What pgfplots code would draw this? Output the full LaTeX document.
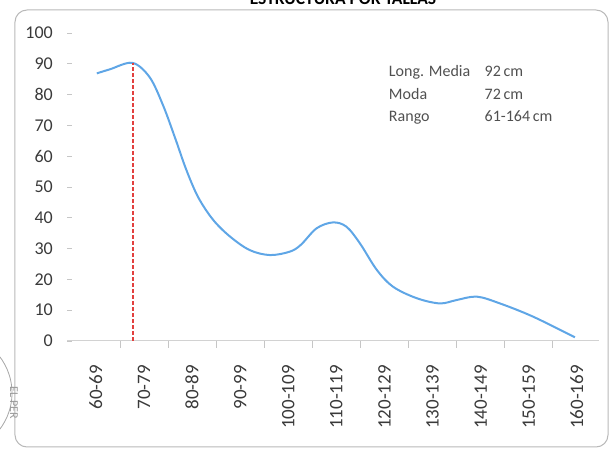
\documentclass[border=0pt]{standalone}
\usepackage{pgfplots}
\pgfplotsset{compat=1.18}
\usepackage{fontspec}
\setmainfont{Carlito}
\definecolor{curve}{HTML}{5FA6E6}
\definecolor{txt}{HTML}{3A3A3A}
\definecolor{ann}{HTML}{505050}
\definecolor{moda}{HTML}{E2403F}
\begin{document}
\begin{tikzpicture}
\path[use as bounding box] (-67pt,-111pt) rectangle (544pt,341pt);
\begin{axis}[
  at={(0pt,0pt)}, anchor=south west,
  scale only axis, width=532pt, height=308pt,
  xmin=59, xmax=169.6, ymin=0, ymax=100,
  /pgf/number format/assume math mode=true,
  axis x line*=bottom, axis y line*=left,
  x axis line style={draw=gray!35, line width=1pt},
  y axis line style={draw=none},
  ytick={0,10,...,100},
  ytick style={draw=gray!45, line width=0.8pt},
  ytick align=inside, major tick length=5pt,
  yticklabel style={font=\fontsize{18}{18}\selectfont, text=txt, inner sep=0pt, xshift=-14pt, anchor=east},
  xtick={65,75,...,165},
  xticklabels={60-69,70-79,80-89,90-99,100-109,110-119,120-129,130-139,140-149,150-159,160-169},
  x tick style={draw=none},
  minor xtick={70,80,...,160},
  minor x tick style={draw=gray!45, line width=0.8pt},
  minor tick length=7pt,
  xtick align=outside,
  xticklabel style={font=\fontsize{19}{19}\selectfont, text=txt, rotate=90, anchor=east, inner sep=0pt},
  xticklabel shift=19pt,
  clip=false,
]
\addplot[curve, line width=2pt, smooth, tension=0.55] coordinates {
(65.2,86.9) (67.9,88.2) (72.6,90.3) (76.2,85.6) (79.0,76.4) (81.5,65.8)
(83.8,55.6) (86.3,46.6) (89.4,39.3) (92.9,33.9) (97.0,29.5) (101.2,27.9)
(105.3,29.0) (107.6,31.2) (110.9,36.6) (114.3,38.5) (117.1,37.1) (119.9,31.7)
(123.4,23.1) (126.8,17.6) (131.7,13.9) (136.5,12.2) (140.0,13.3) (144.2,14.4)
(149.0,12.2) (155.9,7.9) (164.6,1.2)
};
\addplot[moda, line width=1.7pt, dash pattern=on 4pt off 2pt] coordinates {(72.7,0) (72.7,90.3)};
\node[anchor=base west, text=ann, font=\fontsize{16}{16}\selectfont, inner sep=0pt] at (axis cs:125.9,86.0) {Long. Media};
\node[anchor=base west, text=ann, font=\fontsize{16}{16}\selectfont, inner sep=0pt] at (axis cs:125.9,78.5) {Moda};
\node[anchor=base west, text=ann, font=\fontsize{16}{16}\selectfont, inner sep=0pt] at (axis cs:125.9,71.4) {Rango};
\node[anchor=base west, text=ann, font=\fontsize{16}{16}\selectfont, inner sep=0pt] at (axis cs:145.8,86.0) {92\,cm};
\node[anchor=base west, text=ann, font=\fontsize{16}{16}\selectfont, inner sep=0pt] at (axis cs:145.8,78.5) {72\,cm};
\node[anchor=base west, text=ann, font=\fontsize{16}{16}\selectfont, inner sep=0pt] at (axis cs:145.8,71.4) {61-164\,cm};
\end{axis}
\draw[gray!55, line width=1pt, rounded corners=12pt] (-52pt,331pt) rectangle (541pt,-106pt);
\begin{scope}
\clip (-67pt,-111pt) rectangle (544pt,341pt);
\node[anchor=base, font=\bfseries\fontsize{17.5}{17.5}\selectfont, text=black] at (276pt,336pt) {ESTRUCTURA POR TALLAS};
\draw[gray!70, line width=0.8pt] (-115pt,-52pt) circle (60pt);
\draw[gray!60, line width=0.6pt] (-115pt,-52pt) circle (47pt);
\node[text=gray!80, font=\fontsize{12}{12}\selectfont, rotate=-90] at (-53pt,-62pt) {EL PER};
\end{scope}
\end{tikzpicture}
\end{document}
